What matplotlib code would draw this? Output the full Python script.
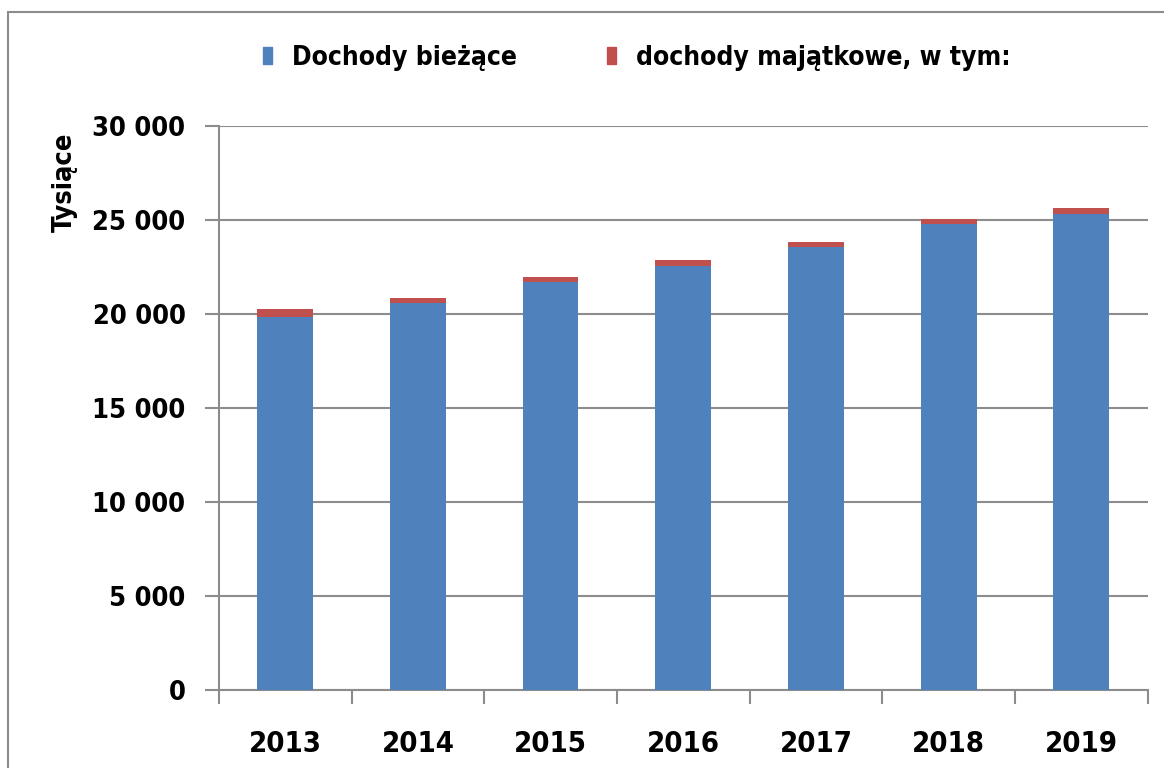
import matplotlib.pyplot as plt
import matplotlib.patches as mpatches
import numpy as np

years = ['2013', '2014', '2015', '2016', '2017', '2018', '2019']
dochody_biezace = [19850, 20560, 21720, 22550, 23580, 24780, 25320]
dochody_majatkowe = [420, 270, 260, 320, 270, 260, 300]

blue = '#4f81bd'
red = '#c0504d'
grid = '#8c8c8c'

plt.rcParams['font.family'] = ['DejaVu Sans']
plt.rcParams['font.stretch'] = 'condensed'
plt.rcParams['font.weight'] = 'bold'
plt.rcParams['axes.labelweight'] = 'bold'

fig = plt.figure(figsize=(11.64, 7.68), dpi=100)
ax = fig.add_axes([0.188, 0.102, 0.798, 0.734])

x = np.arange(len(years))
ax.bar(x, dochody_biezace, width=0.42, color=blue, zorder=3, label='Dochody bieżące')
ax.bar(x, dochody_majatkowe, width=0.42, bottom=dochody_biezace, color=red,
       zorder=3, label='dochody majątkowe, w tym:')

ax.set_xlim(-0.5, len(years) - 0.5)
ax.set_ylim(0, 30000)
ax.set_yticks(np.arange(0, 30001, 5000))
ax.set_yticklabels([f'{v:,}'.replace(',', ' ') for v in range(0, 30001, 5000)])
ax.set_xticks(x)
ax.set_xticklabels(years)
ax.set_xticks(np.arange(-0.5, len(years)), minor=True)

ax.yaxis.grid(True, color=grid, linewidth=1.5, zorder=0)
for side in ['top', 'right']:
    ax.spines[side].set_visible(False)
for side in ['left', 'bottom']:
    ax.spines[side].set_color(grid)
    ax.spines[side].set_linewidth(1.5)

ax.tick_params(axis='y', length=10, width=1.5, color=grid, labelsize=19.5, pad=14)
ax.tick_params(axis='x', which='major', length=0, labelsize=21, pad=29)
ax.tick_params(axis='x', which='minor', length=10, width=1.5, color=grid)
ax.set_ylabel('Tysiące', fontsize=19.5)
ax.yaxis.set_label_coords(-0.152, 0.90)

handles = [mpatches.Patch(color=blue), mpatches.Patch(color=red)]
fig.legend(handles, ['Dochody bieżące', 'dochody majątkowe, w tym:'],
           loc='center', bbox_to_anchor=(0.547, 0.925), ncol=2, frameon=False,
           fontsize=19, handlelength=0.35, handleheight=0.6, handletextpad=0.75,
           columnspacing=3.4)

# outer chart frame
fig.patches.append(mpatches.Rectangle((0.007, -0.05), 1.1, 1.035, transform=fig.transFigure,
                                      fill=False, edgecolor='#8c8c8c', linewidth=1.5))

fig.savefig('out.png', dpi=100)
